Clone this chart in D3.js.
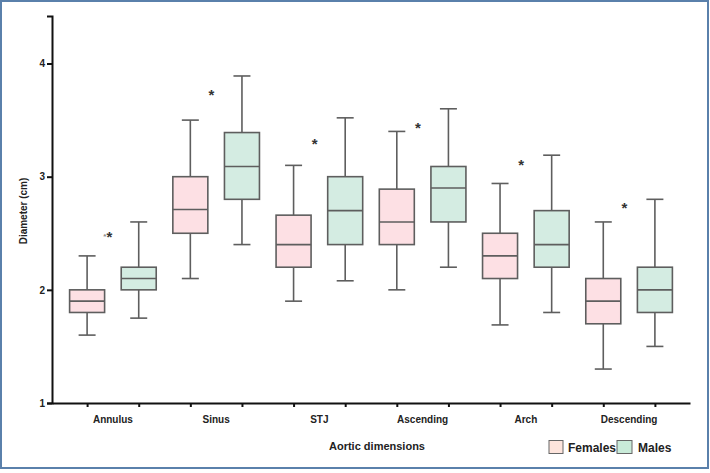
<!DOCTYPE html>
<html>
<head>
<meta charset="utf-8">
<script src="https://cdn.jsdelivr.net/npm/d3@7"></script>
<style>
body { margin:0; background:#fff; }
text { font-family:"Liberation Sans", Arial, sans-serif; font-weight:bold; }
</style>
</head>
<body>
<svg id="chart" width="710" height="473"></svg>
<script>
// aortic dimensions, box stats are [min, q1, median, q3, max] in cm
var categories = ["Annulus","Sinus","STJ","Ascending","Arch","Descending"];
var females = [
	[1.6, 1.8, 1.9, 2.0, 2.3],
	[2.1, 2.5, 2.71, 3.0, 3.5],
	[1.9, 2.2, 2.4, 2.66, 3.1],
	[2.0, 2.4, 2.6, 2.89, 3.4],
	[1.69, 2.1, 2.3, 2.5, 2.94],
	[1.3, 1.7, 1.9, 2.1, 2.6]
];
var males = [
	[1.75, 2.0, 2.1, 2.2, 2.6],
	[2.4, 2.8, 3.09, 3.39, 3.89],
	[2.08, 2.4, 2.7, 3.0, 3.52],
	[2.2, 2.6, 2.9, 3.09, 3.6],
	[1.8, 2.2, 2.4, 2.7, 3.19],
	[1.5, 1.8, 2.0, 2.2, 2.8]
];
var starLabels = ["**","*","*","*","*","*"];
var starValues = [2.5, 3.75, 3.32, 3.46, 3.13, 2.75];
var yTicks = [1,2,3,4];

var svg = d3.select("#chart");
var femaleFill = "#fde0e4", maleFill = "#d4ece2";
var femaleLegend = "#fde4dc", maleLegend = "#c9ebd9";
var boxStroke = "#5e5e5e";

// frame
svg.append("rect").attr("x",1).attr("y",1).attr("width",707).attr("height",467)
	.attr("fill","none").attr("stroke","#5a80ab").attr("stroke-width",2);

var y = d3.scaleLinear().domain([1,4.42]).range([403,16]);

var slots = [];
categories.forEach(function(c){ slots.push(c+"|F"); slots.push(c+"|M"); });
var x = d3.scalePoint().domain(slots).range([52,690]).padding(0.68);
var step = x.step();
var boxW = 35, capW = 17;

// y axis
var yAxis = svg.append("g").attr("transform","translate(52,0)")
	.call(d3.axisLeft(y).tickValues(yTicks).tickSize(5).tickFormat(d3.format("d")));
yAxis.select(".domain").attr("stroke","#111").attr("stroke-width",2);
yAxis.selectAll(".tick line").attr("stroke","#111").attr("stroke-width",2);
yAxis.selectAll(".tick text").attr("font-size",10).attr("fill","#222").attr("x",-7);

// x axis
var xAxis = svg.append("g").attr("transform","translate(0,403)")
	.call(d3.axisBottom(x).tickSize(4).tickSizeOuter(0).tickFormat(""));
xAxis.select(".domain").attr("stroke","#111").attr("stroke-width",2);
xAxis.selectAll(".tick line").attr("stroke","#111").attr("stroke-width",2);

svg.append("g").selectAll("text").data(categories).join("text")
	.attr("x",function(d){ return (x(d+"|F")+x(d+"|M"))/2; })
	.attr("y",423).attr("text-anchor","middle").attr("font-size",10).attr("fill","#222")
	.text(function(d){ return d; });

function drawBoxes(data, key, fill)
{
	var g = svg.append("g");
	data.forEach(function(s,i){
		var cx = x(categories[i]+"|"+key);
		var b = g.append("g");
		b.append("line").attr("x1",cx).attr("x2",cx).attr("y1",y(s[0])).attr("y2",y(s[1]));
		b.append("line").attr("x1",cx).attr("x2",cx).attr("y1",y(s[3])).attr("y2",y(s[4]));
		b.append("line").attr("x1",cx-capW/2).attr("x2",cx+capW/2).attr("y1",y(s[0])).attr("y2",y(s[0]));
		b.append("line").attr("x1",cx-capW/2).attr("x2",cx+capW/2).attr("y1",y(s[4])).attr("y2",y(s[4]));
		b.append("rect").attr("x",cx-boxW/2).attr("width",boxW)
			.attr("y",y(s[3])).attr("height",y(s[1])-y(s[3])).attr("fill",fill);
		b.append("line").attr("x1",cx-boxW/2).attr("x2",cx+boxW/2).attr("y1",y(s[2])).attr("y2",y(s[2]));
		b.selectAll("line,rect").attr("stroke",boxStroke).attr("stroke-width",1.6);
	});
}
drawBoxes(females,"F",femaleFill);
drawBoxes(males,"M",maleFill);

// significance marks
svg.append("g").selectAll("text").data(categories).join("text")
	.attr("x",function(d){ return x(d+"|F")+step*0.41; })
	.attr("y",function(d,i){ return y(starValues[i])+8.5; })
	.attr("text-anchor","middle").attr("font-size",15).attr("fill","#333")
	.each(function(d,i){
		var t = d3.select(this);
		var lab = starLabels[i];
		if(lab.length>1)
		{
			t.attr("text-anchor","end").attr("x",x(d+"|F")+step*0.41+4);
			t.append("tspan").attr("font-size",8).attr("fill","#888").attr("dy",-3).text(lab.slice(1));
			t.append("tspan").attr("dy",3).text("*");
		}
		else t.text(lab);
	});

// axis titles
svg.append("text").attr("transform","translate(27,211) rotate(-90)")
	.attr("text-anchor","middle").attr("font-size",10).attr("fill","#222").text("Diameter (cm)");
svg.append("text").attr("x",377).attr("y",450).attr("text-anchor","middle")
	.attr("font-size",11).attr("fill","#222").text("Aortic dimensions");

// legend
var legend = svg.append("g");
legend.append("rect").attr("x",549).attr("y",440.5).attr("width",14).attr("height",13)
	.attr("fill",femaleLegend).attr("stroke","#666").attr("stroke-width",1);
legend.append("text").attr("x",568).attr("y",452).attr("font-size",12).attr("fill","#222").text("Females");
legend.append("rect").attr("x",617).attr("y",440.5).attr("width",15).attr("height",13)
	.attr("fill",maleLegend).attr("stroke","#666").attr("stroke-width",1);
legend.append("text").attr("x",638).attr("y",452).attr("font-size",12).attr("fill","#222").text("Males");
</script>
</body>
</html>
